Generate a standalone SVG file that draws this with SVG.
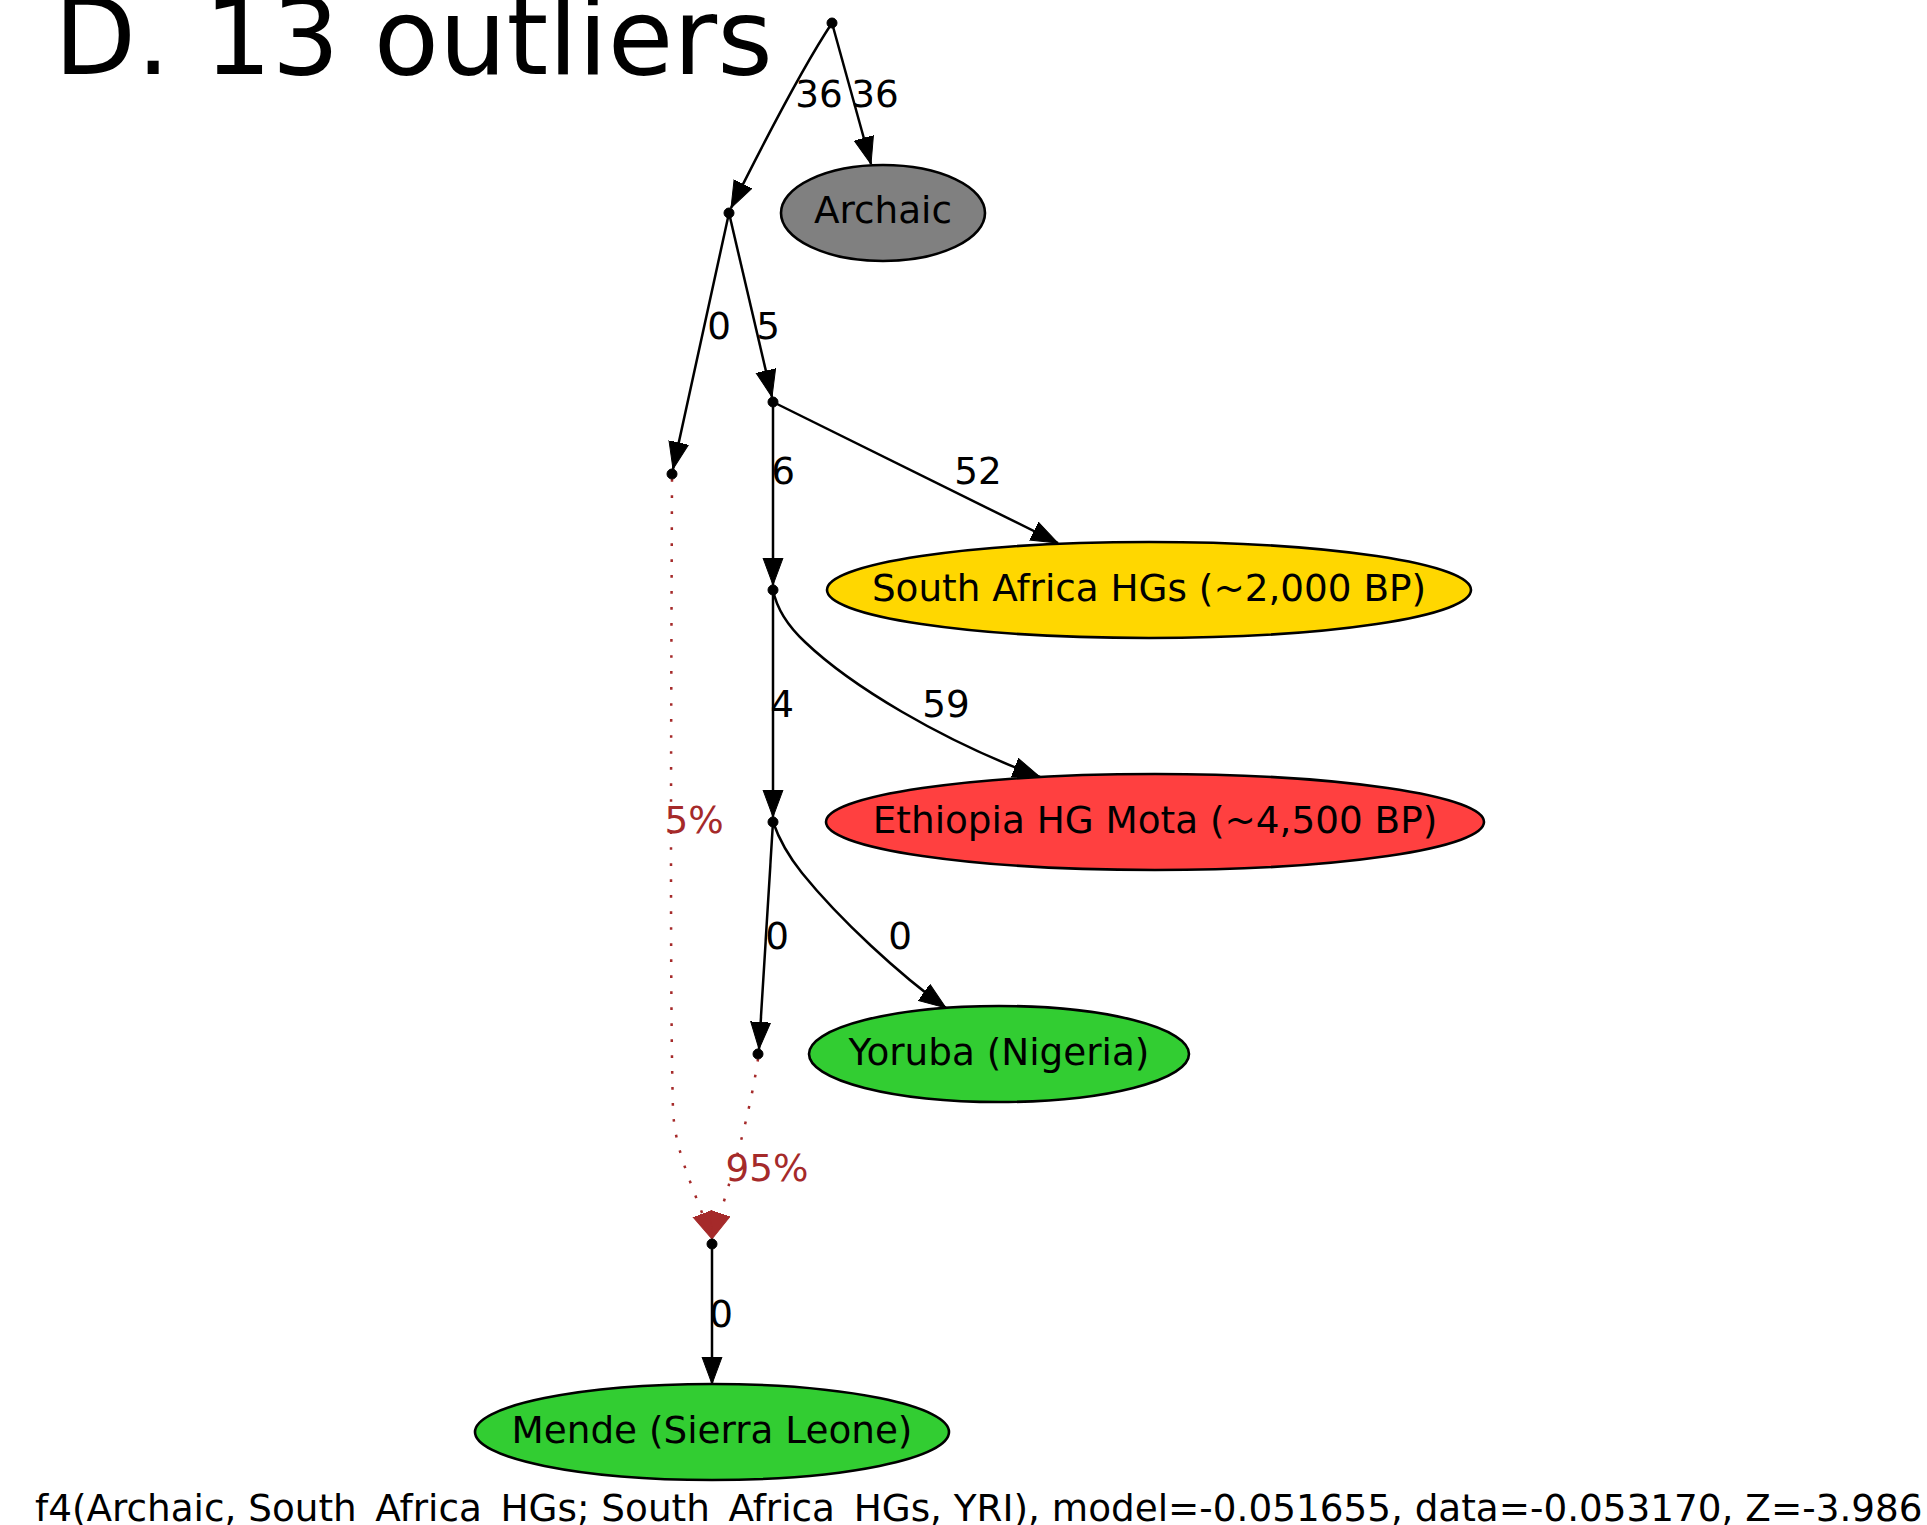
<svg xmlns="http://www.w3.org/2000/svg" width="1927" height="1525" viewBox="0 0 1927 1525">
<style>
text{font-family:"DejaVu Sans","Liberation Sans",sans-serif;font-size:37.33px;fill:#000}
.lbl{text-anchor:middle}
.adm{fill:#a52a2a}
.e{fill:none;stroke:#000;stroke-width:2.5}
.d{fill:none;stroke:#a52a2a;stroke-width:2.5;stroke-dasharray:2.7,13.3}
.pt{fill:#000;stroke:#000;stroke-width:1}
.el{stroke:#000;stroke-width:2.6}
</style>
<defs>
<marker id="ah" markerUnits="userSpaceOnUse" markerWidth="30" markerHeight="22" refX="27" refY="10.5" orient="auto" viewBox="0 0 30 22">
<polygon points="0,0.5 27,10.5 0,20.5" fill="#000" stroke="#000" stroke-width="1"/>
</marker>
<marker id="ahb" markerUnits="userSpaceOnUse" markerWidth="30" markerHeight="22" refX="27" refY="10.5" orient="auto" viewBox="0 0 30 22">
<polygon points="0,0.5 27,10.5 0,20.5" fill="#a52a2a" stroke="#a52a2a" stroke-width="1"/>
</marker>
</defs>
<text x="54" y="74" style="font-size:106.7px">D. 13 outliers</text>
<g id="connectors">
<path class="e" marker-end="url(#ah)" d="M832,23 C814,50 785,100 731,208"/>
<path class="e" marker-end="url(#ah)" d="M832,23 L871,164"/>
<path class="e" marker-end="url(#ah)" d="M729,213 L673,469"/>
<path class="e" marker-end="url(#ah)" d="M729,213 L772,397"/>
<path class="e" marker-end="url(#ah)" d="M773,402 L1058,543"/>
<path class="e" marker-end="url(#ah)" d="M773,402 L773,585"/>
<path class="e" marker-end="url(#ah)" d="M773,590 C777,610 790,628 805,642 C850,685 940,740 1040,777"/>
<path class="e" marker-end="url(#ah)" d="M773,590 L773,817"/>
<path class="e" marker-end="url(#ah)" d="M773,822 C780,842 790,858 802,873 C840,920 900,975 946,1008"/>
<path class="e" marker-end="url(#ah)" d="M773,822 L759,1049"/>
<path class="d" marker-end="url(#ahb)" d="M672,479 C671,750 670,1000 673,1110 C675,1150 690,1180 712,1239"/>
<path class="d" marker-end="url(#ahb)" d="M758,1059 C752,1100 738,1160 712,1239"/>
<path class="e" marker-end="url(#ah)" d="M712,1244 L712,1384"/>
<text class="lbl" x="819" y="107">36</text>
<text class="lbl" x="875" y="107">36</text>
<text class="lbl" x="719" y="339">0</text>
<text class="lbl" x="768" y="339">5</text>
<text class="lbl" x="978" y="484">52</text>
<text class="lbl" x="783" y="484">6</text>
<text class="lbl" x="946" y="717">59</text>
<text class="lbl" x="782" y="717">4</text>
<text class="lbl adm" x="694" y="833">5%</text>
<text class="lbl" x="777" y="949">0</text>
<text class="lbl" x="900" y="949">0</text>
<text class="lbl adm" x="767" y="1181">95%</text>
<text class="lbl" x="721" y="1327">0</text>
</g>
<g id="root"><ellipse class="pt" cx="832" cy="23" rx="5" ry="5"/></g>
<g id="archaic"><ellipse class="el" cx="883" cy="213" rx="102" ry="48" fill="#808080"/><text class="lbl" x="883" y="223">Archaic</text></g>
<g id="n1"><ellipse class="pt" cx="729" cy="213" rx="5" ry="5"/></g>
<g id="n2"><ellipse class="pt" cx="672" cy="474" rx="5" ry="5"/></g>
<g id="n3"><ellipse class="pt" cx="773" cy="402" rx="5" ry="5"/></g>
<g id="n4"><ellipse class="pt" cx="773" cy="590" rx="5" ry="5"/></g>
<g id="southafrica"><ellipse class="el" cx="1149" cy="590" rx="322" ry="48" fill="#ffd700"/><text class="lbl" x="1149" y="601">South Africa HGs (~2,000 BP)</text></g>
<g id="n5"><ellipse class="pt" cx="773" cy="822" rx="5" ry="5"/></g>
<g id="ethiopia"><ellipse class="el" cx="1155" cy="822" rx="329" ry="48" fill="#ff4040"/><text class="lbl" x="1155" y="833">Ethiopia HG Mota (~4,500 BP)</text></g>
<g id="n6"><ellipse class="pt" cx="758" cy="1054" rx="5" ry="5"/></g>
<g id="yoruba"><ellipse class="el" cx="999" cy="1054" rx="190" ry="48" fill="#32cd32"/><text class="lbl" x="999" y="1065">Yoruba (Nigeria)</text></g>
<g id="n7"><ellipse class="pt" cx="712" cy="1244" rx="5" ry="5"/></g>
<g id="mende"><ellipse class="el" cx="712" cy="1432" rx="237" ry="48" fill="#32cd32"/><text class="lbl" x="712" y="1443">Mende (Sierra Leone)</text></g>
<text x="35" y="1521">f4(Archaic, South_Africa_HGs; South_Africa_HGs, YRI), model=-0.051655, data=-0.053170, Z=-3.986</text>
</svg>
